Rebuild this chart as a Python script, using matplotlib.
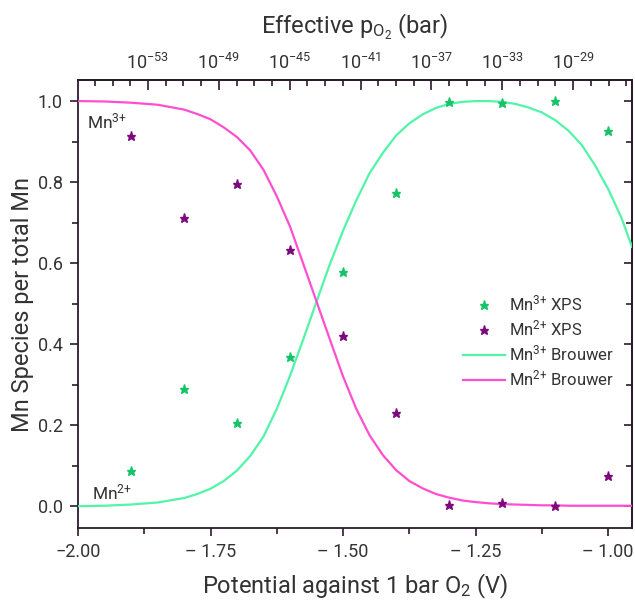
import matplotlib
matplotlib.use("Agg")
import matplotlib.pyplot as plt
from matplotlib.ticker import MultipleLocator, FixedLocator, FuncFormatter

plt.rcParams["font.family"] = ["Roboto", "DejaVu Sans"]
plt.rcParams["mathtext.fontset"] = "custom"
plt.rcParams["mathtext.rm"] = "Roboto"
plt.rcParams["mathtext.it"] = "Roboto:italic"
plt.rcParams["mathtext.bf"] = "Roboto:bold"

# XPS fractions
xps_potential = [-1.9, -1.8, -1.7, -1.6, -1.5, -1.4, -1.3, -1.2, -1.1, -1.0]
xps_mn3 = [0.087, 0.289, 0.205, 0.367, 0.579, 0.772, 0.998, 0.994, 1.000, 0.927]
xps_mn2 = [0.914, 0.712, 0.795, 0.633, 0.420, 0.229, 0.003, 0.007, 0.000, 0.074]

# Brouwer model curves
brouwer_potential = [-2.00, -1.95, -1.90, -1.85, -1.80, -1.775, -1.75, -1.725,
                     -1.70, -1.675, -1.65, -1.625, -1.60, -1.575, -1.55, -1.525,
                     -1.50, -1.475, -1.45, -1.425, -1.40, -1.375, -1.35, -1.325,
                     -1.30, -1.275, -1.25, -1.225, -1.20, -1.175, -1.15, -1.125,
                     -1.10, -1.075, -1.05, -1.025, -1.00, -0.975, -0.955]
brouwer_mn3 = [0.000, 0.001, 0.004, 0.009, 0.020, 0.030, 0.043, 0.062,
               0.088, 0.124, 0.172, 0.240, 0.322, 0.412, 0.505, 0.597,
               0.680, 0.755, 0.822, 0.872, 0.915, 0.945, 0.967, 0.983,
               0.993, 0.998, 1.000, 1.000, 0.998, 0.993, 0.984, 0.972,
               0.953, 0.927, 0.892, 0.842, 0.783, 0.712, 0.640]
brouwer_mn2 = [1.000, 0.999, 0.996, 0.991, 0.979, 0.968, 0.955, 0.935,
               0.911, 0.878, 0.830, 0.765, 0.690, 0.598, 0.505, 0.412,
               0.320, 0.240, 0.175, 0.126, 0.089, 0.062, 0.044, 0.030,
               0.021, 0.014, 0.010, 0.007, 0.005, 0.004, 0.003, 0.002,
               0.002, 0.001, 0.001, 0.001, 0.001, 0.001, 0.001]

# top axis: log10(pO2) decades
po2_major = [-53, -49, -45, -41, -37, -33, -29]
po2_slope = 29.93   # decades per volt
po2_offset = 2.91

ink = "#2b1a2c"
txt = "#333333"
green_pts = "#14c466"
purple_pts = "#7d0a7d"
green_line = "#52f5a8"
pink_line = "#ff4fd0"

fig = plt.figure(figsize=(6.35, 6.02), dpi=100)
ax = fig.add_axes([0.1228, 0.1229, 0.8725, 0.7442])

ax.plot(xps_potential, xps_mn3, linestyle="none", marker="*", ms=6.5,
        color=green_pts, label="Mn$^{3{+}}$ XPS", zorder=4)
ax.plot(xps_potential, xps_mn2, linestyle="none", marker="*", ms=6.5,
        color=purple_pts, label="Mn$^{2{+}}$ XPS", zorder=4)
ax.plot(brouwer_potential, brouwer_mn3, color=green_line, lw=1.6,
        label="Mn$^{3{+}}$ Brouwer", zorder=3)
ax.plot(brouwer_potential, brouwer_mn2, color=pink_line, lw=1.6,
        label="Mn$^{2{+}}$ Brouwer", zorder=3)

ax.set_xlim(-2.0, -0.955)
ax.set_ylim(-0.054, 1.052)

ax.xaxis.set_major_locator(MultipleLocator(0.25))
ax.xaxis.set_minor_locator(MultipleLocator(0.125))
ax.yaxis.set_major_locator(MultipleLocator(0.2))
ax.yaxis.set_minor_locator(MultipleLocator(0.1))
ax.xaxis.set_major_formatter(FuncFormatter(
    lambda v, p: "\u22122.00" if v <= -2 else f"{v:.2f}".replace("-", "\u2013 ")))
ax.yaxis.set_major_formatter(FuncFormatter(lambda v, p: f"{v:.1f}"))

ax.tick_params(axis="both", which="both", direction="out", colors=ink,
               labelcolor=txt, labelsize=13, width=1.2, pad=5)
ax.tick_params(which="major", length=6)
ax.tick_params(which="minor", length=4)
ax.tick_params(top=False, right=False)
for s in ax.spines.values():
    s.set_color(ink)
    s.set_linewidth(1.3)

ax.set_xlabel("Potential against 1 bar O$_2$ (V)", fontsize=17, color=txt, labelpad=8)
ax.set_ylabel("Mn Species per total Mn", fontsize=17, color=txt, labelpad=3)

# right axis: inward ticks only
rax = ax.secondary_yaxis("right")
rax.yaxis.set_major_locator(MultipleLocator(0.2))
rax.yaxis.set_minor_locator(MultipleLocator(0.1))
rax.tick_params(which="both", direction="in", colors=ink, labelright=False, width=1.2)
rax.tick_params(which="major", length=6)
rax.tick_params(which="minor", length=4)
rax.spines["right"].set_color(ink)
rax.spines["right"].set_linewidth(1.3)

# top axis: effective oxygen partial pressure
tax = ax.secondary_xaxis("top", functions=(lambda e: po2_slope * e + po2_offset,
                                           lambda p: (p - po2_offset) / po2_slope))
tax.xaxis.set_major_locator(FixedLocator(po2_major))
tax.xaxis.set_minor_locator(MultipleLocator(1))
tax.xaxis.set_major_formatter(FuncFormatter(lambda v, p: f"10$^{{{int(round(v))}}}$"))
tax.tick_params(which="both", direction="in", colors=ink, labelcolor=txt,
                labelsize=13, width=1.2, pad=5)
tax.tick_params(which="major", length=7)
tax.tick_params(which="minor", length=4)
tax.spines["top"].set_color(ink)
tax.spines["top"].set_linewidth(1.3)
tax.set_xlabel("Effective p$_{\\mathregular{O}_2}$ (bar)", fontsize=17, color=txt, labelpad=14)

ax.text(-1.983, 0.95, "Mn$^{3{+}}$", fontsize=12.5, color=txt, va="center", ha="left")
ax.text(-1.974, 0.035, "Mn$^{2{+}}$", fontsize=12.5, color=txt, va="center", ha="left")

ax.legend(loc="center left", bbox_to_anchor=(0.695, 0.417), frameon=False,
          fontsize=12, handlelength=2.5, handletextpad=0.25, labelspacing=0.3,
          labelcolor=txt, borderpad=0, borderaxespad=0)

fig.savefig("out.png", dpi=100)
